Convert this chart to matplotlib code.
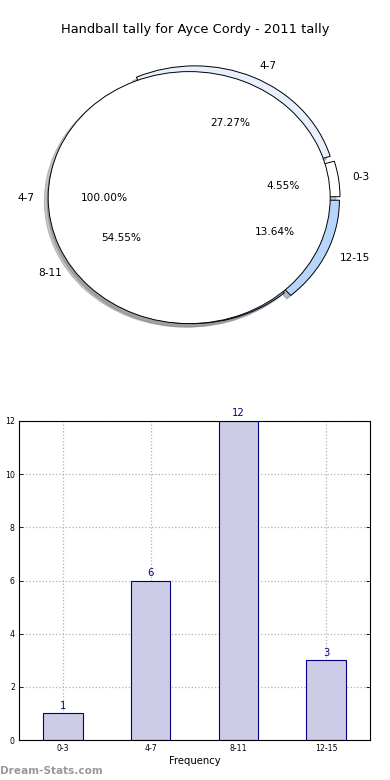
import matplotlib
matplotlib.use("Agg")
import matplotlib.pyplot as plt

categories = ["0-3", "4-7", "8-11", "12-15"]
counts = [1, 6, 12, 3]
pie_colors = ["#ffffff", "#e8effd", "#b6d5fc", "#b6d5fc"]
inner_labels = ["4-7"]
inner_values = [1]
yticks = [0, 2, 4, 6, 8, 10, 12]

W, H = 390, 780
fig = plt.figure(figsize=(W / 100, H / 100), dpi=100)

# ---- pie ----
ax1 = fig.add_axes([8.7 / W, 418.6 / H, 366.6 / W, 327.6 / H])
wprops = dict(edgecolor="black", linewidth=0.7)
shad = dict(shade=0.45)
ax1.pie(counts, labels=categories, explode=[0.05, 0.05, 0.0, 0.05],
        colors=pie_colors, startangle=0, counterclock=True,
        autopct="%1.2f%%", pctdistance=0.6, labeldistance=1.1,
        shadow=shad, wedgeprops=wprops, radius=1.0,
        textprops=dict(fontsize=7.6))
ax1.pie(inner_values, labels=inner_labels, explode=[0.02],
        colors=["white"], startangle=0, autopct="%1.2f%%",
        pctdistance=0.6, labeldistance=1.1, shadow=shad,
        wedgeprops=wprops, radius=1.0, textprops=dict(fontsize=7.6))
ax1.set_aspect("auto")
ax1.set_xlim(-1.3, 1.3)
ax1.set_ylim(-1.3, 1.3)
ax1.axis("off")

fig.text(195 / W, 1 - 30 / H, "Handball tally for Ayce Cordy - 2011 tally",
         ha="center", va="center", fontsize=9.4)

# ---- bars ----
ax2 = fig.add_axes([19 / W, 40 / H, 351 / W, 319 / H])
x = list(range(len(categories)))
ax2.bar(x, counts, width=0.45, color="#ccccE6", edgecolor="#000080",
        linewidth=0.8, zorder=2)
for xi, v in zip(x, counts):
    ax2.text(xi, v + 0.1, str(v), ha="center", va="bottom",
             color="#000080", fontsize=7.2, zorder=3)
ax2.set_xlim(-0.5, 3.5)
ax2.set_ylim(0, 12)
ax2.set_xticks(x)
ax2.set_xticklabels(categories)
ax2.set_yticks(yticks)
ax2.tick_params(axis="both", labelsize=5.6, direction="in", length=3,
                width=0.6, top=False, right=True, pad=3)
ax2.grid(True, linestyle=":", color="#b0b0b0", linewidth=0.9, zorder=0)
ax2.set_axisbelow(True)
for s in ax2.spines.values():
    s.set_linewidth(0.8)
ax2.set_xlabel("Frequency", fontsize=7.2, labelpad=2)
ax2.set_ylabel("Distribution", fontsize=7.2)
ax2.yaxis.set_label_coords(-19 / 351 + 2 / 351 - 0.002, 0.5)

fig.text(0.0, 1 - 771 / H, "Dream-Stats.com", ha="left", va="center",
         fontsize=7.6, color="#999999", fontweight="bold")

fig.savefig("out.png", dpi=100)
